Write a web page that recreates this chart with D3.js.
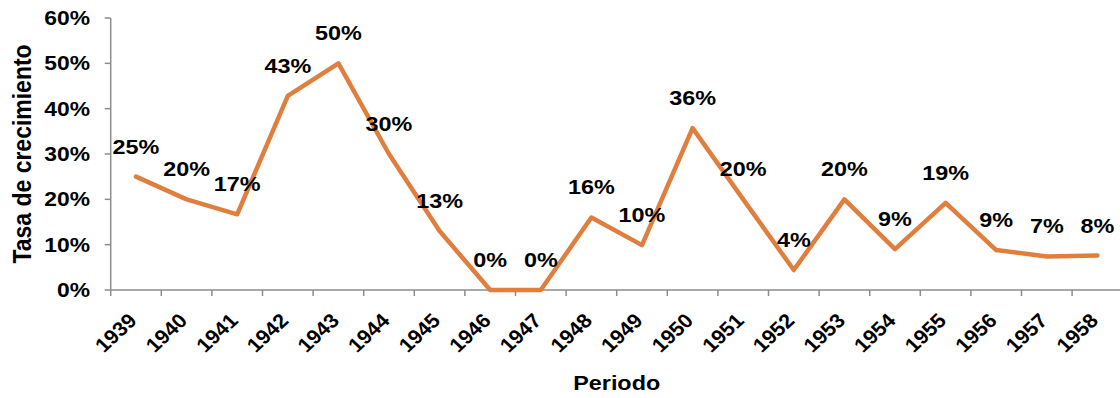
<!DOCTYPE html>
<html>
<head>
<meta charset="utf-8">
<script src="https://cdn.jsdelivr.net/npm/d3@7"></script>
<style>
  html, body { margin: 0; padding: 0; background: #fff; }
  svg { display: block; }
  text { font-family: "Liberation Sans", Arial, sans-serif; font-weight: bold; fill: #000; }
</style>
</head>
<body>
<svg id="chart" width="1120" height="398"></svg>
<script>
const years = ["1939","1940","1941","1942","1943","1944","1945","1946","1947","1948",
               "1949","1950","1951","1952","1953","1954","1955","1956","1957","1958"];
const growth = [25, 20, 16.7, 42.8, 50, 30, 13, 0, 0, 16, 9.9, 35.7, 20, 4.4, 20, 9, 19.2, 8.8, 7.4, 7.6];
const yTicks = [0, 10, 20, 30, 40, 50, 60];
const xTitle = "Periodo";
const yTitle = "Tasa de crecimiento";

(function () {
const SX = 1.17; // horizontal stretch of glyphs as in reference
const svg = d3.select("#chart");
const pLeft = 110.7, pRight = 1122.7, pTop = 18, pBottom = 290;

const x = d3.scaleBand().domain(years).range([pLeft, pRight]);
const y = d3.scaleLinear().domain([0, 60]).range([pBottom, pTop]);
const axisColor = "#8c8c8c";

// Y axis
const gy = svg.append("g");
gy.append("line").attr("x1", pLeft).attr("x2", pLeft).attr("y1", y(60)).attr("y2", y(0))
  .attr("stroke", axisColor).attr("stroke-width", 1.5);
gy.selectAll("line.tick").data(yTicks).join("line").attr("class", "tick")
  .attr("x1", pLeft - 6).attr("x2", pLeft).attr("y1", d => y(d)).attr("y2", d => y(d))
  .attr("stroke", axisColor).attr("stroke-width", 1.5);
gy.selectAll("text").data(yTicks).join("text")
  .attr("transform", d => `translate(90,${y(d) + 7}) scale(${SX},1)`)
  .attr("text-anchor", "end").attr("font-size", 19.5)
  .text(d => d + "%");

// X axis
const gx = svg.append("g");
gx.append("line").attr("x1", pLeft).attr("x2", 1120).attr("y1", pBottom).attr("y2", pBottom)
  .attr("stroke", axisColor).attr("stroke-width", 1.5);
const bounds = years.map(d => x(d)).concat([x(years[years.length - 1]) + x.bandwidth()]);
gx.selectAll("line.tick").data(bounds).join("line").attr("class", "tick")
  .attr("x1", d => d).attr("x2", d => d).attr("y1", pBottom).attr("y2", pBottom + 6)
  .attr("stroke", axisColor).attr("stroke-width", 1.5);
gx.selectAll("text").data(years).join("text")
  .attr("transform", d => `translate(${x(d) + x.bandwidth() / 2 + 2},322) scale(1.08,1) rotate(-45)`)
  .attr("text-anchor", "end").attr("font-size", 20)
  .text(d => d);

// Line
const cx = d => x(d) + x.bandwidth() / 2;
const pts = years.map((d, i) => [cx(d), y(growth[i])]);
svg.append("path").datum(pts)
  .attr("d", d3.line())
  .attr("fill", "none").attr("stroke", "#E07E3E").attr("stroke-width", 4.5)
  .attr("stroke-linejoin", "round").attr("stroke-linecap", "round");

// Data labels
svg.append("g").selectAll("text").data(years).join("text")
  .attr("transform", (d, i) => `translate(${cx(d)},${y(growth[i]) - 23}) scale(${SX},1)`)
  .attr("text-anchor", "middle").attr("font-size", 20)
  .text((d, i) => Math.round(growth[i]) + "%");

// Titles
svg.append("text")
  .attr("transform", `translate(${(pLeft + pRight) / 2},390) scale(${SX},1)`)
  .attr("text-anchor", "middle").attr("font-size", 20)
  .text(xTitle);
svg.append("text")
  .attr("transform", `translate(31,${(pTop + pBottom) / 2}) scale(1.1,1) rotate(-90)`)
  .attr("text-anchor", "middle").attr("font-size", 23)
  .text(yTitle);
})();
</script>
</body>
</html>
